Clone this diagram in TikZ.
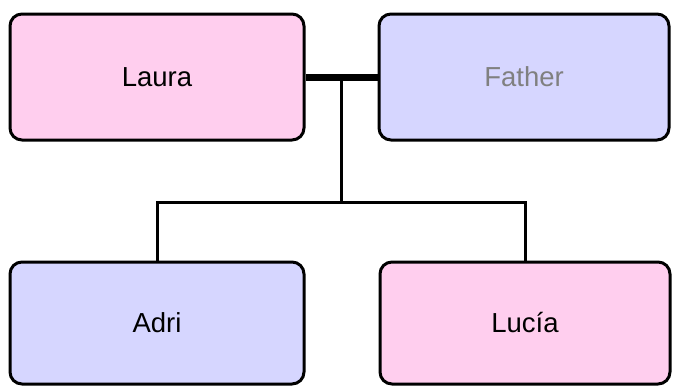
\documentclass[tikz,border=0pt]{standalone}
\usepackage{fontspec}
\setmainfont{Liberation Sans}
\usetikzlibrary{calc}
\definecolor{pinkfill}{RGB}{255,206,238}
\definecolor{bluefill}{RGB}{214,214,255}
\definecolor{graytext}{RGB}{128,128,128}
\tikzset{
  person/.style={draw=black, line width=3pt, rounded corners=12pt, inner sep=0pt,
    font=\fontsize{27.5}{32}\selectfont},
  female/.style={person, fill=pinkfill},
  male/.style={person, fill=bluefill},
  marriage/.style={line width=7pt},
  descent/.style={line width=3pt}
}
\begin{document}
\begin{tikzpicture}[x=1pt,y=-1pt]
\useasboundingbox (0,0) rectangle (673,389);
\node[female, minimum width=294pt, minimum height=126pt] (laura) at (157,77) {Laura};
\node[male, minimum width=290pt, minimum height=126pt, text=graytext] (father) at (524,77) {Father};
\node[male, minimum width=294pt, minimum height=122pt] (adri) at (157,323) {Adri};
\node[female, minimum width=290pt, minimum height=122pt] (lucia) at (525,323) {Lucía};
\draw[marriage] (laura.east) -- (father.west);
\coordinate (m) at ($(laura.east)!0.5!(father.west)$);
\coordinate (j) at ($(m)+(0,125.5)$);
\draw[descent] (m) -- (j);
\draw[descent] (adri.north) |- (j) -| (lucia.north);
\end{tikzpicture}
\end{document}
